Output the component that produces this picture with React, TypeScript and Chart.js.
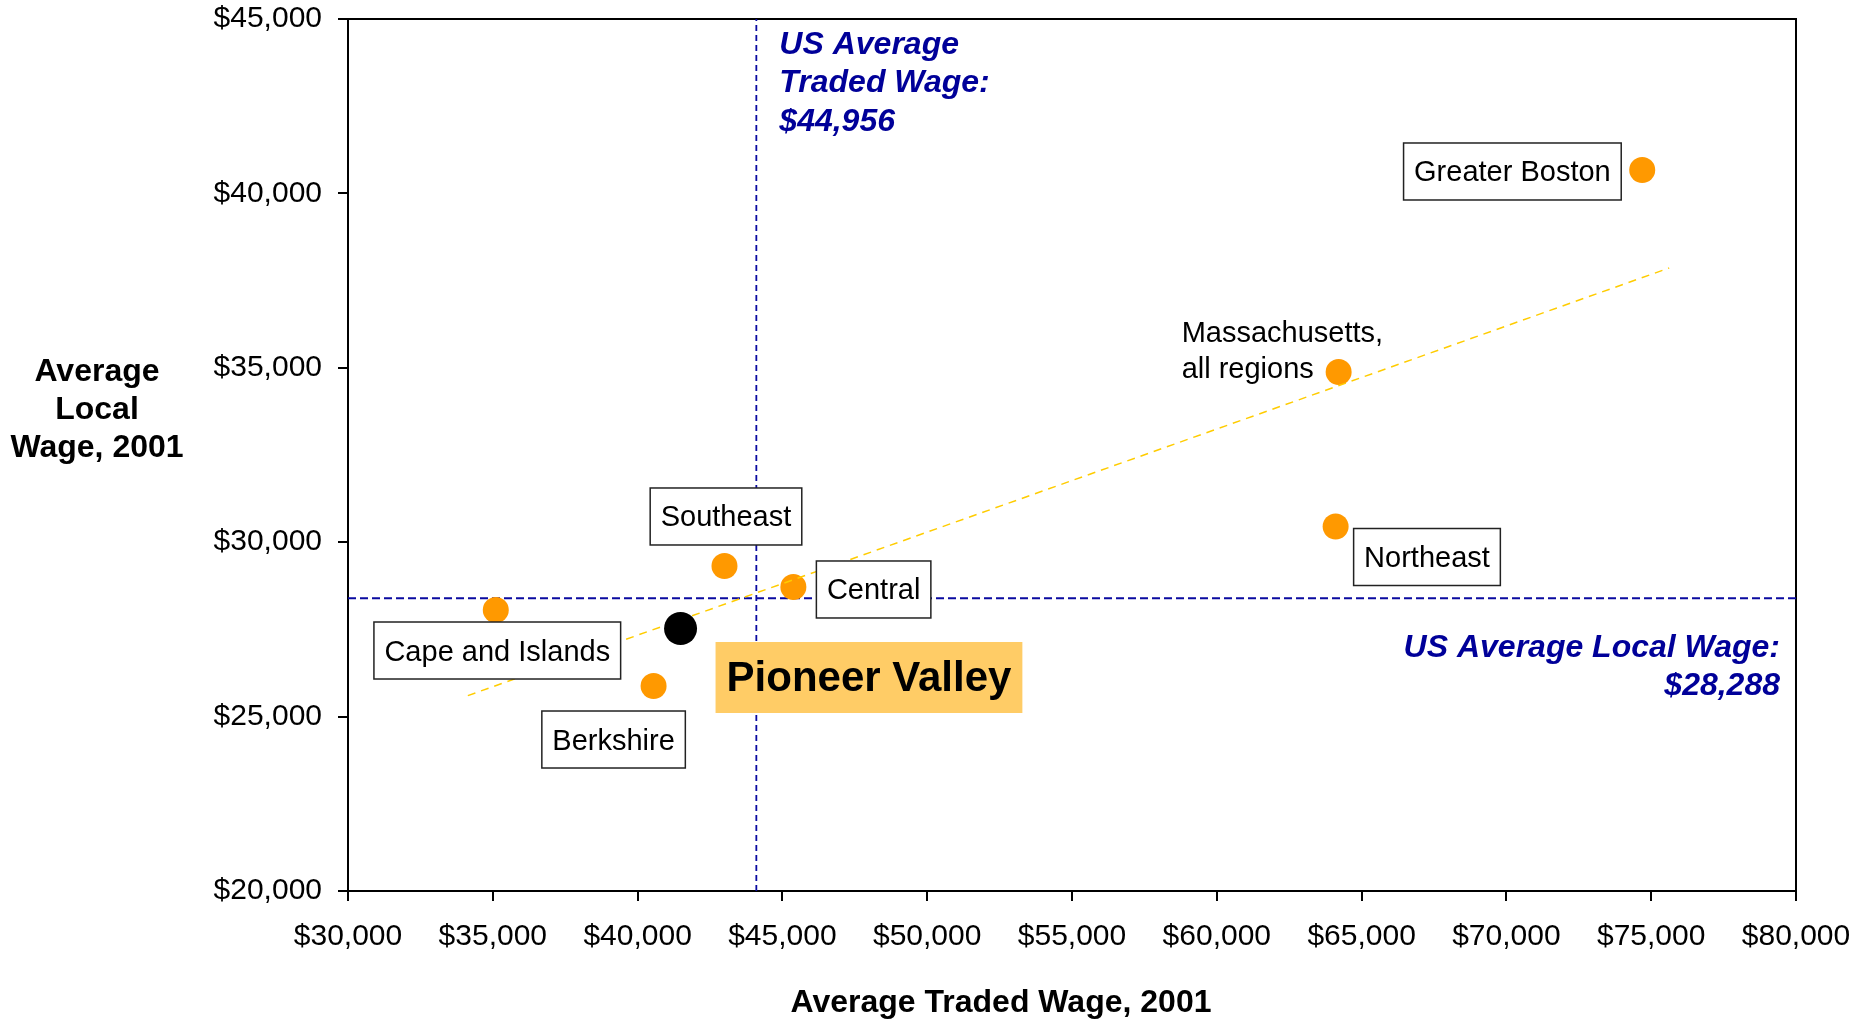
import React, { useEffect, useRef } from "react";
import { Chart, registerables } from "chart.js";

Chart.register(...registerables);

// ---- data ----
const regionNames = [
  "Greater Boston",
  "Massachusetts, all regions",
  "Northeast",
  "Southeast",
  "Central",
  "Cape and Islands",
  "Berkshire",
];
const regionTradedWage = [74690, 64207, 64103, 43000, 45379, 35103, 40552];
const regionLocalWage = [40671, 34880, 30450, 29318, 28716, 28056, 25877];

const focusName = "Pioneer Valley";
const focusTradedWage = 41483;
const focusLocalWage = 27526;

const usAvgTradedLine = 44100;
const usAvgTradedText = ["US Average", "Traded Wage:", "$44,956"];
const usAvgLocalLine = 28390;
const usAvgLocalText = ["US Average Local Wage:", "$28,288"];

const trendTraded = [34138, 75621];
const trendLocal = [25602, 37861];

const xMin = 30000;
const xMax = 80000;
const yMin = 20000;
const yMax = 45000;
const tickStep = 5000;

const xTitle = "Average Traded Wage, 2001";
const yTitle = ["Average", "Local", "Wage, 2001"];

// ---- styling ----
const FONT = "'Liberation Sans', Arial, Helvetica, sans-serif";
const ORANGE = "#FF9900";
const NAVY = "#000099";
const LINE_BLUE = "#0A0AA0";
const TREND = "#FFCC00";
const W = 1858;
const H = 1020;

type LabelStyle = {
  ax: "left" | "right" | "center";
  dx: number;
  ay: "top" | "bottom" | "middle";
  dy: number;
};

const labelStyles: Record<string, LabelStyle> = {
  "Greater Boston": { ax: "right", dx: -21, ay: "middle", dy: 1.5 },
  Northeast: { ax: "left", dx: 18, ay: "top", dy: 2 },
  Southeast: { ax: "center", dx: 1.5, ay: "bottom", dy: -21 },
  Central: { ax: "left", dx: 23, ay: "middle", dy: 2.5 },
  "Cape and Islands": { ax: "center", dx: 1.5, ay: "top", dy: 12 },
  Berkshire: { ax: "center", dx: -40, ay: "top", dy: 25 },
};

const fmt = (v: number) => "$" + v.toLocaleString("en-US");

const overlayPlugin = {
  id: "overlay",
  beforeDatasetsDraw(chart: any) {
    const ctx = chart.ctx;
    const a = chart.chartArea;
    ctx.save();
    ctx.strokeStyle = "#000";
    ctx.lineWidth = 2;
    ctx.strokeRect(a.left, a.top, a.right - a.left, a.bottom - a.top);
    ctx.restore();
  },
  afterDatasetsDraw(chart: any) {
    const ctx = chart.ctx;
    const a = chart.chartArea;
    const xs = chart.scales.x;
    const ys = chart.scales.y;
    ctx.save();

    // region labels
    const meta = chart.getDatasetMeta(0);
    ctx.font = `29px ${FONT}`;
    ctx.textBaseline = "middle";
    regionNames.forEach((name, i) => {
      const el = meta.data[i];
      if (!el) return;
      const px = el.x;
      const py = el.y;
      if (name === "Massachusetts, all regions") {
        ctx.fillStyle = "#000";
        ctx.textAlign = "left";
        ctx.fillText("Massachusetts,", px - 157, py - 38);
        ctx.fillText("all regions", px - 157, py - 2);
        return;
      }
      const s = labelStyles[name];
      const tw = ctx.measureText(name).width;
      const w = tw + 21;
      const h = 57;
      let left = px + s.dx;
      if (s.ax === "right") left = px + s.dx - w;
      if (s.ax === "center") left = px + s.dx - w / 2;
      let top = py + s.dy;
      if (s.ay === "bottom") top = py + s.dy - h;
      if (s.ay === "middle") top = py + s.dy - h / 2;
      ctx.fillStyle = "#fff";
      ctx.fillRect(left, top, w, h);
      ctx.strokeStyle = "#222";
      ctx.lineWidth = 1.5;
      ctx.strokeRect(left, top, w, h);
      ctx.fillStyle = "#000";
      ctx.textAlign = "left";
      ctx.fillText(name, left + 10.5, top + h / 2 + 2);
    });

    // focus label
    const fm = chart.getDatasetMeta(1).data[0];
    if (fm) {
      ctx.font = `bold 42px ${FONT}`;
      const tw = ctx.measureText(focusName).width;
      const w = tw + 22;
      const h = 71;
      const left = fm.x + 35;
      const top = fm.y + 13.5;
      ctx.fillStyle = "#FFCC66";
      ctx.fillRect(left, top, w, h);
      ctx.fillStyle = "#000";
      ctx.textAlign = "left";
      ctx.fillText(focusName, left + 11, top + h / 2 + 2);
    }

    // US average annotations
    ctx.font = `italic bold 32px ${FONT}`;
    ctx.fillStyle = NAVY;
    ctx.textAlign = "left";
    const vx = xs.getPixelForValue(usAvgTradedLine);
    usAvgTradedText.forEach((t, i) => {
      ctx.fillText(t, vx + 23, a.top + 26 + i * 38.5);
    });
    const hy = ys.getPixelForValue(usAvgLocalLine);
    ctx.textAlign = "right";
    usAvgLocalText.forEach((t, i) => {
      ctx.fillText(t, a.right - 16, hy + 50 + i * 38);
    });

    // axis titles
    ctx.fillStyle = "#000";
    ctx.font = `bold 32px ${FONT}`;
    ctx.textAlign = "center";
    const yc = [372, 410, 448];
    yTitle.forEach((t, i) => ctx.fillText(t, 97, yc[i]));
    ctx.fillText(xTitle, 1001, 1003);

    ctx.restore();
  },
};

export default function App() {
  const ref = useRef<HTMLCanvasElement | null>(null);

  useEffect(() => {
    if (!ref.current) return;
    const regionPoints = regionNames.map((_, i) => ({
      x: regionTradedWage[i],
      y: regionLocalWage[i],
    }));
    const chart = new Chart(ref.current, {
      type: "scatter",
      data: {
        datasets: [
          {
            label: "Regions",
            data: regionPoints,
            backgroundColor: ORANGE,
            borderColor: ORANGE,
            pointRadius: 13,
            pointHoverRadius: 13,
            borderWidth: 0,
            order: 4,
          },
          {
            label: focusName,
            data: [{ x: focusTradedWage, y: focusLocalWage }],
            backgroundColor: "#000",
            borderColor: "#000",
            pointRadius: 16.5,
            pointHoverRadius: 16.5,
            borderWidth: 0,
            order: 1,
          },
          {
            type: "line",
            label: "Trend",
            data: trendTraded.map((x, i) => ({ x, y: trendLocal[i] })),
            borderColor: TREND,
            borderWidth: 1.5,
            borderDash: [8, 6],
            pointRadius: 0,
            fill: false,
            order: 2,
          } as any,
          {
            type: "line",
            label: "US avg traded",
            data: [
              { x: usAvgTradedLine, y: yMin },
              { x: usAvgTradedLine, y: yMax },
            ],
            borderColor: LINE_BLUE,
            borderWidth: 1.8,
            borderDash: [6, 4],
            pointRadius: 0,
            fill: false,
            order: 5,
          } as any,
          {
            type: "line",
            label: "US avg local",
            data: [
              { x: xMin, y: usAvgLocalLine },
              { x: xMax, y: usAvgLocalLine },
            ],
            borderColor: LINE_BLUE,
            borderWidth: 2,
            borderDash: [8, 4],
            pointRadius: 0,
            fill: false,
            order: 5,
          } as any,
        ],
      },
      options: {
        animation: false,
        responsive: false,
        maintainAspectRatio: false,
        layout: { padding: { top: 19, right: 62, left: 0, bottom: 0 } },
        plugins: {
          legend: { display: false },
          tooltip: { enabled: false },
        },
        scales: {
          x: {
            type: "linear",
            min: xMin,
            max: xMax,
            border: { display: false },
            grid: {
              drawOnChartArea: false,
              drawTicks: true,
              tickLength: 10,
              color: "#000",
              lineWidth: 2,
            },
            ticks: {
              stepSize: tickStep,
              color: "#000",
              padding: 18,
              maxRotation: 0,
              font: { family: FONT, size: 30 },
              callback: (v: any) => fmt(Number(v)),
            },
            afterFit(scale: any) {
              scale.height = 129;
              scale.paddingLeft = 0;
              scale.paddingRight = 0;
              scale.paddingTop = 0;
              scale.paddingBottom = 0;
            },
          },
          y: {
            type: "linear",
            min: yMin,
            max: yMax,
            border: { display: false },
            grid: {
              drawOnChartArea: false,
              drawTicks: true,
              tickLength: 10,
              color: "#000",
              lineWidth: 2,
            },
            ticks: {
              stepSize: tickStep,
              color: "#000",
              padding: 16,
              font: { family: FONT, size: 30 },
              callback: (v: any) => fmt(Number(v)),
            },
            afterFit(scale: any) {
              scale.width = 348;
              scale.paddingLeft = 0;
              scale.paddingRight = 0;
              scale.paddingTop = 0;
              scale.paddingBottom = 0;
            },
          },
        },
      },
      plugins: [overlayPlugin],
    } as any);
    return () => chart.destroy();
  }, []);

  return (
    <div
      style={{
        position: "fixed",
        left: 0,
        top: 0,
        width: W + "px",
        height: H + "px",
        background: "#fff",
      }}
    >
      <canvas
        ref={ref}
        width={W}
        height={H}
        style={{ display: "block", width: W + "px", height: H + "px" }}
      />
    </div>
  );
}
